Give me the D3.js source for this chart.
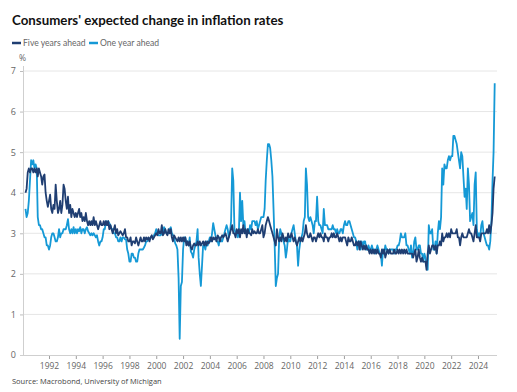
<!DOCTYPE html>
<html>
<head>
<meta charset="utf-8">
<script src="https://cdn.jsdelivr.net/npm/d3@7"></script>
<style>
  html, body { margin: 0; padding: 0; background: #ffffff; }
  svg { display: block; font-family: "Open Sans", "Noto Sans", sans-serif; }
</style>
</head>
<body>
<svg id="chart" width="517" height="392"></svg>
<script>
// ---- Data (monthly, April 1990 – April 2025) ----
const seriesStart = { year: 1990, month: 3 }; // April 1990 (0-based month)
const seriesNames = ["Five years ahead", "One year ahead"];

const fiveYearsAhead = [
  4.0, 4.1, 4.5, 4.6, 4.5, 4.6, 4.6, 4.5, 4.6,                 // 1990 Apr-Dec
  4.5, 4.6, 4.4, 4.6, 4.5, 4.4, 4.2, 4.4, 4.45, 4.0, 3.8, 3.65, // 1991
  3.8, 3.95, 3.6, 3.5, 3.7, 3.6, 4.2, 3.8, 3.5, 3.6, 3.8, 3.5,  // 1992
  3.7, 4.2, 4.1, 3.8, 3.6, 3.9, 3.5, 3.7, 3.4, 3.6, 3.5, 3.4,   // 1993
  3.5, 3.4, 3.5, 3.6, 3.4, 3.5, 3.3, 3.4, 3.3, 3.5, 3.3, 3.2,   // 1994
  3.3, 3.2, 3.3, 3.2, 3.4, 3.2, 3.3, 3.2, 3.1, 3.2, 3.3, 3.2,   // 1995
  3.2, 3.3, 3.2, 3.3, 3.2, 3.3, 3.1, 3.2, 3.1, 3.0, 3.1, 3.2,   // 1996
  3.0, 3.1, 2.95, 3.0, 3.05, 3.0, 2.95, 3.0, 3.1, 2.9, 2.9, 2.8, // 1997
  2.8, 2.9, 2.7, 2.8, 2.8, 2.75, 2.9, 2.8, 2.7, 2.8, 2.9, 2.8,  // 1998
  2.8, 2.9, 2.8, 2.9, 2.85, 2.9, 2.8, 2.9, 2.95, 2.85, 2.9, 2.95, // 1999
  3.0, 2.95, 3.1, 3.0, 3.0, 3.2, 2.95, 3.0, 3.1, 3.0, 2.95, 3.1, // 2000
  3.0, 3.1, 2.9, 2.8, 2.95, 2.9, 2.85, 2.8, 2.9, 2.8, 2.9, 2.8, // 2001
  2.9, 2.8, 2.9, 2.7, 2.8, 2.7, 2.8, 2.65, 2.6, 2.7, 2.75, 2.7, // 2002
  2.7, 2.8, 2.7, 2.8, 2.7, 2.75, 2.8, 2.7, 2.8, 2.7, 2.8, 2.75, // 2003
  2.8, 2.9, 2.8, 2.9, 2.85, 2.9, 2.8, 2.95, 2.9, 2.8, 2.9, 2.95, // 2004
  2.9, 2.95, 3.0, 2.9, 2.8, 2.9, 3.0, 3.1, 3.2, 3.0, 3.0, 2.9,  // 2005
  3.1, 3.0, 3.1, 2.9, 3.1, 3.0, 3.2, 3.0, 3.1, 2.9, 3.1, 3.0,   // 2006
  3.0, 2.95, 3.1, 3.0, 3.05, 3.0, 3.0, 3.1, 3.0, 3.0, 3.1, 3.2, // 2007
  2.9, 3.0, 3.2, 3.3, 3.4, 3.3, 3.2, 3.1, 3.0, 2.9, 2.8, 2.7,   // 2008
  3.1, 2.9, 2.8, 2.9, 2.8, 3.0, 2.9, 2.8, 2.9, 2.8, 3.0, 2.9,   // 2009
  2.9, 3.0, 2.9, 2.8, 2.9, 2.8, 2.7, 2.8, 2.9, 2.8, 2.9, 2.8,   // 2010
  2.9, 3.0, 3.2, 3.0, 2.9, 2.9, 3.0, 2.9, 2.8, 2.9, 2.9, 2.8,   // 2011
  2.9, 3.0, 2.9, 3.0, 2.9, 2.9, 2.8, 3.0, 2.9, 2.9, 2.8, 2.9,   // 2012
  2.9, 3.0, 2.9, 3.0, 2.9, 2.9, 3.0, 2.9, 2.8, 2.9, 2.8, 2.9,   // 2013
  2.9, 2.9, 2.8, 2.7, 2.9, 2.8, 2.8, 2.9, 2.8, 2.7, 2.7, 2.8,   // 2014
  2.7, 2.8, 2.6, 2.8, 2.7, 2.6, 2.7, 2.6, 2.7, 2.6, 2.6, 2.5,   // 2015
  2.6, 2.5, 2.6, 2.5, 2.6, 2.5, 2.6, 2.5, 2.5, 2.4, 2.6, 2.5,   // 2016
  2.6, 2.4, 2.5, 2.6, 2.5, 2.6, 2.5, 2.5, 2.5, 2.6, 2.5, 2.5,   // 2017
  2.6, 2.5, 2.6, 2.5, 2.6, 2.5, 2.6, 2.5, 2.6, 2.5, 2.5, 2.5,   // 2018
  2.5, 2.5, 2.4, 2.5, 2.6, 2.3, 2.4, 2.6, 2.4, 2.3, 2.4, 2.3,   // 2019
  2.3, 2.3, 2.1, 2.5, 2.7, 2.5, 2.6, 2.7, 2.7, 2.6, 2.7, 2.5,   // 2020
  2.7, 2.7, 2.8, 2.7, 3.0, 2.8, 2.9, 2.9, 3.0, 2.9, 3.0, 2.9,   // 2021
  3.1, 3.0, 3.0, 3.0, 3.0, 3.1, 2.9, 2.9, 2.7, 2.9, 3.0, 2.9,   // 2022
  2.9, 2.9, 2.9, 3.0, 3.1, 3.0, 3.0, 2.9, 2.8, 3.0, 3.2, 2.9,   // 2023
  2.9, 2.9, 2.8, 3.0, 3.0, 3.0, 3.0, 3.0, 3.1, 3.0, 3.2, 3.0,   // 2024
  3.2, 3.5, 4.1, 4.4                                            // 2025 Jan-Apr
];

const oneYearAhead = [
  3.6, 3.4, 3.5, 3.8, 4.3, 4.8, 4.7, 4.8, 4.6,                 // 1990 Apr-Dec
  4.7, 4.6, 3.4, 3.2, 3.2, 3.1, 3.1, 3.0, 2.9, 2.9, 2.7, 2.7,   // 1991
  2.6, 2.7, 2.9, 3.0, 3.0, 2.9, 2.8, 2.8, 2.9, 3.1, 2.9, 3.0,   // 1992
  3.0, 3.1, 3.1, 3.1, 3.2, 3.35, 3.1, 3.0, 3.1, 3.0, 3.15, 3.0, // 1993
  3.1, 3.0, 3.1, 3.05, 3.15, 3.0, 3.1, 3.1, 3.0, 3.1, 3.15, 3.05, // 1994
  3.0, 2.95, 3.0, 2.95, 3.0, 2.95, 2.9, 2.95, 2.8, 2.7, 2.8, 2.8, // 1995
  2.9, 3.1, 3.1, 3.3, 3.2, 3.3, 3.25, 3.2, 3.1, 3.1, 3.0, 3.0,  // 1996
  2.9, 2.9, 2.8, 2.8, 2.9, 2.8, 2.9, 2.9, 2.85, 2.85, 2.6, 2.5, // 1997
  2.3, 2.3, 2.5, 2.5, 2.4, 2.4, 2.3, 2.3, 2.5, 2.6, 2.6, 2.6,   // 1998
  2.6, 2.65, 2.7, 2.8, 2.8, 2.85, 2.85, 2.9, 2.9, 2.9, 2.95, 3.0, // 1999
  3.1, 3.0, 2.95, 2.95, 2.95, 3.0, 3.0, 3.15, 3.1, 3.0, 3.0, 3.0, // 2000
  3.1, 3.15, 3.0, 2.95, 2.9, 2.75, 2.7, 2.6, 1.9, 0.4, 1.7, 1.8, // 2001
  2.6, 2.9, 2.9, 2.8, 2.8, 2.7, 2.9, 2.55, 2.5, 2.4, 2.6, 2.7,  // 2002
  2.8, 3.1, 2.4, 2.0, 1.7, 2.2, 2.7, 2.7, 2.6, 2.8, 2.7, 2.8,   // 2003
  2.9, 2.8, 3.0, 3.25, 3.1, 2.95, 2.8, 2.8, 2.7, 2.9, 2.8, 2.8, // 2004
  2.9, 3.0, 3.1, 3.2, 3.1, 2.9, 3.0, 3.3, 4.6, 4.3, 3.1, 3.0,   // 2005
  3.0, 2.9, 3.0, 4.0, 3.3, 3.8, 3.2, 3.3, 3.0, 3.0, 3.1, 3.0,   // 2006
  3.2, 3.1, 3.3, 3.3, 3.3, 3.2, 3.3, 3.1, 3.2, 3.3, 3.4, 3.4,   // 2007
  3.4, 3.6, 4.3, 4.8, 5.2, 5.2, 5.1, 4.8, 4.4, 3.6, 2.7, 1.7,   // 2008
  1.9, 2.0, 2.8, 3.1, 3.0, 2.9, 2.8, 2.7, 2.4, 2.6, 2.9, 2.8,   // 2009
  2.8, 3.0, 3.1, 3.2, 3.0, 2.8, 2.7, 2.2, 2.6, 2.8, 2.9, 3.0,   // 2010
  3.3, 3.4, 4.6, 4.2, 3.4, 3.3, 3.4, 3.3, 3.2, 3.0, 3.3, 3.3,   // 2011
  3.9, 3.3, 3.2, 3.2, 3.1, 3.0, 3.6, 3.2, 3.2, 3.2, 3.1, 3.1,   // 2012
  3.1, 3.1, 3.2, 3.1, 3.1, 3.0, 3.1, 3.0, 3.0, 3.1, 3.1, 3.0,   // 2013
  3.2, 3.3, 3.2, 3.2, 3.3, 3.3, 3.2, 3.1, 3.0, 2.9, 2.9, 2.8,   // 2014
  2.6, 2.8, 2.8, 2.6, 2.8, 2.7, 2.8, 2.8, 2.6, 2.6, 2.7, 2.6,   // 2015
  2.6, 2.7, 2.6, 2.6, 2.5, 2.6, 2.7, 2.6, 2.5, 2.5, 2.2, 2.6,   // 2016
  2.5, 2.7, 2.6, 2.6, 2.5, 2.6, 2.6, 2.6, 2.6, 2.5, 2.6, 2.6,   // 2017
  2.7, 2.7, 2.8, 3.0, 2.9, 2.9, 2.9, 3.0, 2.7, 2.7, 2.6, 2.5,   // 2018
  2.7, 2.4, 2.5, 2.8, 2.9, 2.6, 2.6, 2.7, 2.7, 2.5, 2.5, 2.3,   // 2019
  2.5, 2.4, 2.2, 2.1, 3.2, 3.0, 3.0, 3.1, 2.6, 2.6, 2.8, 2.5,   // 2020
  3.0, 3.3, 3.1, 3.4, 4.6, 4.2, 4.7, 4.6, 4.6, 4.8, 4.9, 4.8,   // 2021
  4.9, 4.9, 5.4, 5.4, 5.3, 5.2, 5.0, 4.8, 4.6, 5.0, 4.9, 4.4,   // 2022
  3.9, 4.1, 3.6, 4.6, 4.2, 3.3, 3.4, 3.5, 3.2, 4.2, 4.5, 3.1,   // 2023
  2.9, 3.0, 2.9, 3.2, 3.3, 3.0, 2.9, 2.8, 2.7, 2.7, 2.6, 2.8,   // 2024
  3.3, 4.3, 5.0, 6.7                                            // 2025 Jan-Apr
];

const yTickValues = [0, 1, 2, 3, 4, 5, 6, 7];
const xTickYears = [1992, 1994, 1996, 1998, 2000, 2002, 2004, 2006, 2008,
                    2010, 2012, 2014, 2016, 2018, 2020, 2022, 2024];

// ---- Styling / layout ----
const colors = { five: "#1f3e72", one: "#1599d6" };
const plot = { left: 24, right: 497, top: 66, bottom: 355 };

const svg = d3.select("#chart");

const dates = fiveYearsAhead.map((_, i) => new Date(seriesStart.year, seriesStart.month + i, 1));

const x = d3.scaleTime()
  .domain([new Date(1990, 0, 1), new Date(2026, 0, 1)])
  .range([22.2, 504.8]);
const y = d3.scaleLinear().domain([0, 7]).range([355, 71]);

// Gridlines
svg.append("g")
  .selectAll("line")
  .data(yTickValues.filter(v => v > 0))
  .join("line")
  .attr("x1", plot.left).attr("x2", plot.right)
  .attr("y1", d => y(d)).attr("y2", d => y(d))
  .attr("stroke", "#e6e6e6").attr("stroke-width", 1);

// Y axis
const yAxis = svg.append("g")
  .attr("transform", `translate(${plot.left},0)`)
  .call(d3.axisLeft(y).tickValues(yTickValues).tickSize(4).tickPadding(4).tickFormat(d3.format("d")));
yAxis.select(".domain").remove();
yAxis.selectAll(".tick line").attr("stroke", "#bdbdbd");
yAxis.selectAll(".tick text").attr("fill", "#666").attr("font-size", 9)
  .attr("font-family", "'Open Sans', sans-serif");
svg.append("line")
  .attr("x1", plot.left - 0.5).attr("x2", plot.left - 0.5)
  .attr("y1", plot.top).attr("y2", plot.bottom)
  .attr("stroke", "#cfcfcf");

// X axis
const xAxis = svg.append("g")
  .attr("transform", `translate(0,${plot.bottom})`)
  .call(d3.axisBottom(x)
    .tickValues(xTickYears.map(yr => new Date(yr, 0, 1)))
    .tickSize(4).tickPadding(4)
    .tickFormat(d3.timeFormat("%Y")));
xAxis.select(".domain").remove();
xAxis.selectAll(".tick line").attr("stroke", "#9e9e9e");
xAxis.selectAll(".tick text").attr("fill", "#666").attr("font-size", 8.5)
  .attr("font-family", "'Open Sans', sans-serif");
svg.append("line")
  .attr("x1", plot.left - 4).attr("x2", plot.right)
  .attr("y1", plot.bottom + 0.5).attr("y2", plot.bottom + 0.5)
  .attr("stroke", "#cfcfcf");

// "%" unit label
svg.append("text").attr("x", 19).attr("y", 61)
  .attr("font-size", 8.5).attr("fill", "#666").text("%");

// Lines
const line = d3.line()
  .x((d, i) => x(dates[i]))
  .y(d => y(d));

svg.append("path").datum(oneYearAhead)
  .attr("fill", "none").attr("stroke", colors.one)
  .attr("stroke-width", 1.8).attr("stroke-linejoin", "round")
  .attr("d", line);
svg.append("path").datum(fiveYearsAhead)
  .attr("fill", "none").attr("stroke", colors.five)
  .attr("stroke-width", 1.8).attr("stroke-linejoin", "round")
  .attr("d", line);

// Title
svg.append("text").attr("x", 12).attr("y", 25)
  .attr("font-size", 13.3).attr("font-weight", 700).attr("fill", "#111")
  .attr("font-family", "Lato, 'Open Sans', sans-serif")
  .text("Consumers' expected change in inflation rates");

// Legend
const legend = svg.append("g").attr("font-size", 8.6)
  .attr("font-family", "Lato, 'Open Sans', sans-serif");
const legendItems = [
  { name: seriesNames[0], color: colors.five, x: 12 },
  { name: seriesNames[1], color: colors.one, x: 89 }
];
legendItems.forEach(it => {
  legend.append("line").attr("x1", it.x).attr("x2", it.x + 9)
    .attr("y1", 43).attr("y2", 43)
    .attr("stroke", it.color).attr("stroke-width", 2.5);
  legend.append("text").attr("x", it.x + 11).attr("y", 46.2)
    .attr("fill", "#666").text(it.name);
});

// Source
svg.append("text").attr("x", 12).attr("y", 384)
  .attr("font-size", 7.5).attr("fill", "#444")
  .text("Source: Macrobond, University of Michigan");
</script>
</body>
</html>
